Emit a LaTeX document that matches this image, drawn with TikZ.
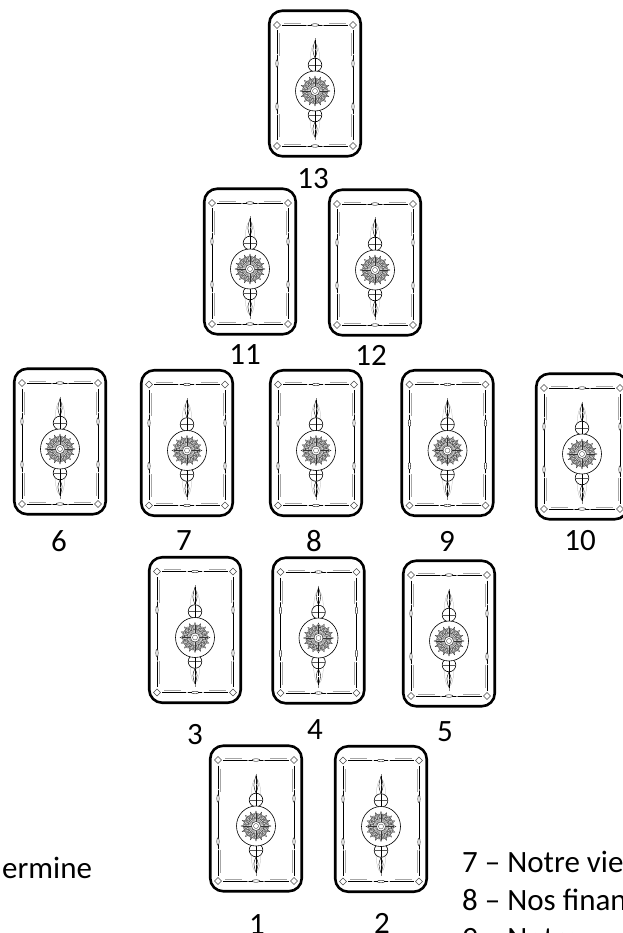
\documentclass[tikz,border=0pt]{standalone}
\usepackage{fontspec}
\setmainfont{Carlito}
\newcommand\cardornament{%
  % corner diamonds
  \foreach \sx in {-1,1}{\foreach \yy in {-58.5,62.5}{
    \draw[orn,gray!60!black] (\sx*38,\yy) +(0,-3.5) -- +(3.5,0) -- +(0,3.5) -- +(-3.5,0) -- cycle;
    \fill (\sx*38,\yy) circle (1.5pt);
  }}
  % top and bottom rules
  \foreach \yy in {-58.5,62.5}{
    \draw[orn] (-33,\yy) -- (33,\yy);
    \draw[orn,gray!70] (-31,{\yy-2}) -- (-14,{\yy-2}) (14,{\yy-2}) -- (31,{\yy-2});
    \fill (-8,\yy) circle (0.9pt) (8,\yy) circle (0.9pt);
    \draw[orn,fill=white] (0,\yy) ellipse [x radius=3.8pt, y radius=1.3pt];
  }
  % side rules
  \foreach \sx in {-1,1}{
    \draw[orn] (\sx*38,-53) -- (\sx*38,57);
    \draw[orn,gray!70] (\sx*36,-50) -- (\sx*36,-27) (\sx*36,31) -- (\sx*36,54);
    \draw[orn,fill=white] (\sx*38,-20) ellipse [x radius=1.2pt, y radius=3.8pt];
    \draw[orn,fill=white] (\sx*38,23) ellipse [x radius=1.2pt, y radius=3.8pt];
    \fill (\sx*38,-29) circle (0.8pt) (\sx*38,31) circle (0.8pt);
  }
  % axis and construction lines
  \draw[line width=0.3pt,gray] (0,-45) -- (0,57);
  \draw[line width=0.25pt,gray!60] (0,-20) ellipse [x radius=5pt, y radius=20pt];
  \draw[line width=0.25pt,gray!60] (0,33) ellipse [x radius=5pt, y radius=20pt];
  % spikes
  \draw[orn,fill=white] (0,-43) .. controls (2.8,-33) .. (0,-25.5) .. controls (-2.8,-33) .. (0,-43);
  \draw[orn,fill=white] (0,54) .. controls (2.8,45) .. (0,38.5) .. controls (-2.8,45) .. (0,54);
  \draw[line width=0.6pt] (0,-43) -- (0,-26) (0,38.5) -- (0,54);
  \fill (0,-34) circle (0.7pt) (0,46) circle (0.7pt);
  % small circles
  \draw[line width=0.6pt,fill=white] (0,-18.5) circle (6.8pt);
  \draw[line width=0.6pt,fill=white] (0,31.5) circle (6.8pt);
  \draw[line width=0.25pt,gray!70!black] (-6.8,-18.5) -- (6.8,-18.5) (-6.8,31.5) -- (6.8,31.5);
  \draw[line width=0.3pt] (0,-25.3) -- (0,-11.7) (0,24.7) -- (0,38.3);
  % large ellipse
  \draw[line width=0.6pt,fill=white] (0,7.5) ellipse [x radius=19.5pt, y radius=20pt];
  % mandala
  \draw[line width=0.3pt,draw=gray!45!black,fill=gray!45]
    plot[samples at={0,11.25,...,360},variable=\a]
    ({(mod(round(\a/11.25),2)==0 ? 15 : 10.5)*cos(\a)},{7.5+(mod(round(\a/11.25),2)==0 ? 15 : 10.5)*sin(\a)}) -- cycle;
  \draw[line width=0.25pt,draw=gray!45!black,fill=gray!30]
    plot[samples at={5.625,16.875,...,365.625},variable=\a]
    ({(mod(round((\a-5.625)/11.25),2)==0 ? 11 : 7.5)*cos(\a)},{7.5+(mod(round((\a-5.625)/11.25),2)==0 ? 11 : 7.5)*sin(\a)}) -- cycle;
  \foreach \a in {0,11.25,...,348.75}{
    \draw[line width=0.15pt,gray!40!black] ({4.5*cos(\a)},{7.5+4.5*sin(\a)}) -- ({13*cos(\a)},{7.5+13*sin(\a)});
  }
  \draw[line width=0.25pt,gray!50!black] (0,7.5) circle (8pt) (0,7.5) circle (12.5pt);
  \draw[line width=0.3pt,fill=white] (0,7.5) circle (4.5pt);
  \draw[line width=0.3pt,gray!40!black] (0,7.5) circle (2.5pt);
  \fill (0,7.5) circle (0.8pt);
}
\tikzset{
  orn/.style={line width=0.4pt},
  cardbox/.style={draw, line width=2.6pt, rounded corners=13pt,
    minimum width=91.5pt, minimum height=145.5pt, inner sep=0pt, fill=white,
    path picture={\begin{scope}[sharp corners,line width=0.4pt,shift={(path picture bounding box.center)}]\cardornament\end{scope}}},
  numlbl/.style={inner sep=0pt, font=\fontsize{31}{38}\selectfont},
  bodytext/.style={inner sep=0pt, font=\fontsize{31}{38}\selectfont},
}
\begin{document}
\begin{tikzpicture}[x=1pt,y=-1pt]
  \useasboundingbox (0,0) rectangle (622,933);
  \fill[white] (0,0) rectangle (622,933);
  % cards
  \node[cardbox] (c13) at (315,83.5) {};
  \node[cardbox] (c11) at (250,261.5) {};
  \node[cardbox] (c12) at (375,262.5) {};
  \node[cardbox] (c6) at (60,441.5) {};
  \node[cardbox] (c7) at (187,443) {};
  \node[cardbox] (c8) at (316,443) {};
  \node[cardbox] (c9) at (447.5,443) {};
  \node[cardbox] (c10) at (582,446.5) {};
  \node[cardbox] (c3) at (195,630) {};
  \node[cardbox] (c4) at (318.5,630.5) {};
  \node[cardbox] (c5) at (449,633.5) {};
  \node[cardbox] (c1) at (256,818.5) {};
  \node[cardbox] (c2) at (381,819) {};
  % labels
  \node[numlbl] (l13) at (313,179) {13};
  \node[numlbl] (l11) at (245,355) {11};
  \node[numlbl] (l12) at (371,355) {12};
  \node[numlbl] (l6) at (59,541) {6};
  \node[numlbl] (l7) at (184,541) {7};
  \node[numlbl] (l8) at (314,541) {8};
  \node[numlbl] (l9) at (447,541) {9};
  \node[numlbl] (l10) at (580,541) {10};
  \node[numlbl] (l3) at (195,735) {3};
  \node[numlbl] (l4) at (315,730) {4};
  \node[numlbl] (l5) at (445,732) {5};
  \node[numlbl] (l1) at (257,925) {1};
  \node[numlbl] (l2) at (382,923) {2};
  % side texts
  \node[bodytext,anchor=base west] (tleft) at (2,878) {ermine};
  \node[bodytext,anchor=base west] (t7) at (462,872) {7 – Notre vie};
  \node[bodytext,anchor=base west] (t8) at (462,910) {8 – Nos finan};
  \node[bodytext,anchor=base west] (t9) at (462,948) {9 – Notre};
\end{tikzpicture}
\end{document}
